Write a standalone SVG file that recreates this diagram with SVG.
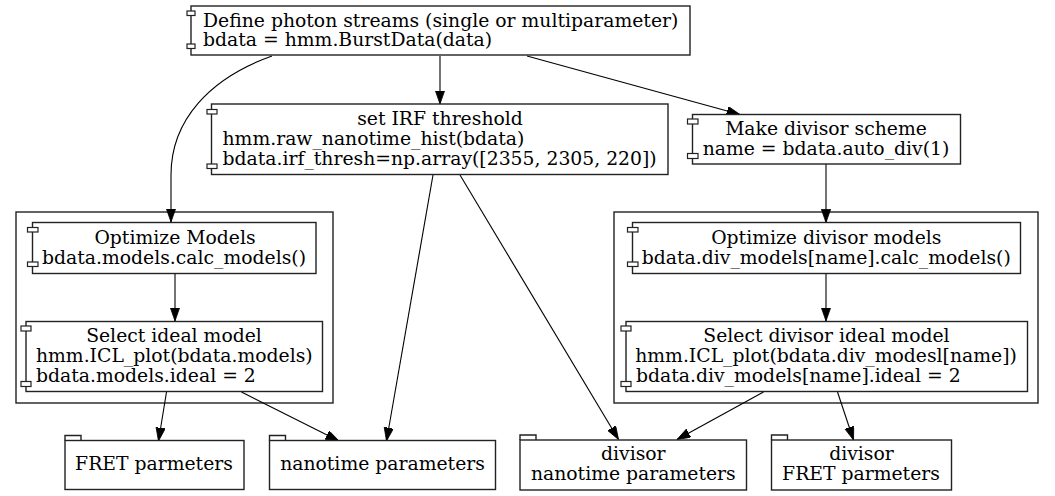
<svg xmlns="http://www.w3.org/2000/svg" width="1055" height="496" viewBox="0 0 1055 496">
<defs>
<style>
text{font-family:"DejaVu Serif","Liberation Serif",serif;font-size:18.8px;fill:#000}
.m{text-anchor:middle}
.box{fill:#fff;stroke:#222;stroke-width:1.4}
.pin{fill:#fff;stroke:#222;stroke-width:1.2}
.cl{fill:none;stroke:#222;stroke-width:1.4}
.e{fill:none;stroke:#000;stroke-width:1.1}
</style>
<marker id="ah" markerUnits="userSpaceOnUse" markerWidth="14" markerHeight="10" refX="13.3" refY="4.65" orient="auto" viewBox="0 0 14 10">
<path d="M0,0 L13.3,4.65 L0,9.3 z" fill="#000" stroke="#000" stroke-width="0.8"/>
</marker>
</defs>
<rect width="1055" height="496" fill="#fff"/>

<g id="clusters">
<rect class="cl" x="16" y="212" width="317" height="191"/>
<rect class="cl" x="614" y="212" width="424" height="191"/>
</g>

<g id="connectors">
<path class="e" marker-end="url(#ah)" d="M272,56 C210,78 171,120 171,175 L171,222"/>
<path class="e" marker-end="url(#ah)" d="M440,56 L440,104"/>
<path class="e" marker-end="url(#ah)" d="M527,56 L740,114.5"/>
<path class="e" marker-end="url(#ah)" d="M175,273.5 L175,321"/>
<path class="e" marker-end="url(#ah)" d="M826,164 L826,222.5"/>
<path class="e" marker-end="url(#ah)" d="M826,273.5 L826,321"/>
<path class="e" marker-end="url(#ah)" d="M433,175 L386.5,441"/>
<path class="e" marker-end="url(#ah)" d="M460,175 L618.5,439.5"/>
<path class="e" marker-end="url(#ah)" d="M166.5,392 L158.5,441"/>
<path class="e" marker-end="url(#ah)" d="M241.5,392 L339,441"/>
<path class="e" marker-end="url(#ah)" d="M763.5,392 L677,439.5"/>
<path class="e" marker-end="url(#ah)" d="M837.5,392 L853.5,440"/>
</g>

<g id="n_define">
<rect class="box" x="191" y="6" width="499" height="49"/>
<rect class="pin" x="187" y="11" width="8" height="4.5"/>
<rect class="pin" x="187" y="44" width="8" height="4.5"/>
<text x="203" y="26.5">Define photon streams (single or multiparameter)</text>
<text x="203" y="46">bdata = hmm.BurstData(data)</text>
</g>

<g id="n_irf">
<rect class="box" x="211.5" y="104" width="456.5" height="70.5"/>
<rect class="pin" x="207" y="109.5" width="10" height="4.5"/>
<rect class="pin" x="207" y="164" width="10" height="4.5"/>
<text class="m" x="440" y="124.5">set IRF threshold</text>
<text x="222.5" y="144.5">hmm.raw_nanotime_hist(bdata)</text>
<text x="222.5" y="164.5">bdata.irf_thresh=np.array([2355, 2305, 220])</text>
</g>

<g id="n_divisor">
<rect class="box" x="692.5" y="114.5" width="268" height="49.5"/>
<rect class="pin" x="687.5" y="119" width="10.5" height="5"/>
<rect class="pin" x="687.5" y="153.5" width="10.5" height="5"/>
<text class="m" x="826" y="135">Make divisor scheme</text>
<text class="m" x="826" y="154.5">name = bdata.auto_div(1)</text>
</g>

<g id="n_opt">
<rect class="box" x="32.5" y="222.5" width="283.5" height="51"/>
<rect class="pin" x="27.5" y="227.5" width="10.5" height="4.5"/>
<rect class="pin" x="27.5" y="262" width="10.5" height="4.5"/>
<text class="m" x="175" y="243.5">Optimize Models</text>
<text class="m" x="174" y="263.5">bdata.models.calc_models()</text>
</g>

<g id="n_sel">
<rect class="box" x="26" y="321.5" width="296.5" height="70"/>
<rect class="pin" x="21" y="326" width="10" height="5"/>
<rect class="pin" x="21" y="381.5" width="10" height="5"/>
<text class="m" x="174" y="341.7">Select ideal model</text>
<text class="m" x="174.3" y="361.7">hmm.ICL_plot(bdata.models)</text>
<text x="36" y="381.7">bdata.models.ideal = 2</text>
</g>

<g id="n_divopt">
<rect class="box" x="632.5" y="222.5" width="388" height="51"/>
<rect class="pin" x="627.5" y="227.5" width="10.5" height="4.5"/>
<rect class="pin" x="627.5" y="262" width="10.5" height="4.5"/>
<text class="m" x="826.3" y="243.5">Optimize divisor models</text>
<text class="m" x="826.3" y="263.5">bdata.div_models[name].calc_models()</text>
</g>

<g id="n_divsel">
<rect class="box" x="626" y="321.5" width="401.5" height="70"/>
<rect class="pin" x="621" y="326" width="10" height="5"/>
<rect class="pin" x="621" y="381.5" width="10" height="5"/>
<text class="m" x="826.5" y="341.7">Select divisor ideal model</text>
<text class="m" x="826" y="361.7">hmm.ICL_plot(bdata.div_modesl[name])</text>
<text x="636" y="381.7">bdata.div_models[name].ideal = 2</text>
</g>

<g id="n_fret">
<path class="box" d="M65,440.5 L65,435.5 L81,435.5 L81,440.5"/>
<rect class="box" x="65" y="440.5" width="179" height="49"/>
<text class="m" x="154" y="470">FRET parmeters</text>
</g>

<g id="n_nano">
<path class="box" d="M269.5,440.5 L269.5,435.5 L285.5,435.5 L285.5,440.5"/>
<rect class="box" x="269.5" y="440.5" width="226" height="49"/>
<text class="m" x="382.5" y="470">nanotime parameters</text>
</g>

<g id="n_divnano">
<path class="box" d="M520,440 L520,435 L536,435 L536,440"/>
<rect class="box" x="520" y="440" width="226.5" height="50"/>
<text class="m" x="633.3" y="460">divisor</text>
<text class="m" x="633.3" y="480">nanotime parameters</text>
</g>

<g id="n_divfret">
<path class="box" d="M771.5,440 L771.5,435 L787.5,435 L787.5,440"/>
<rect class="box" x="771.5" y="440" width="180" height="50"/>
<text class="m" x="861.5" y="460">divisor</text>
<text class="m" x="861" y="480">FRET parmeters</text>
</g>
</svg>
